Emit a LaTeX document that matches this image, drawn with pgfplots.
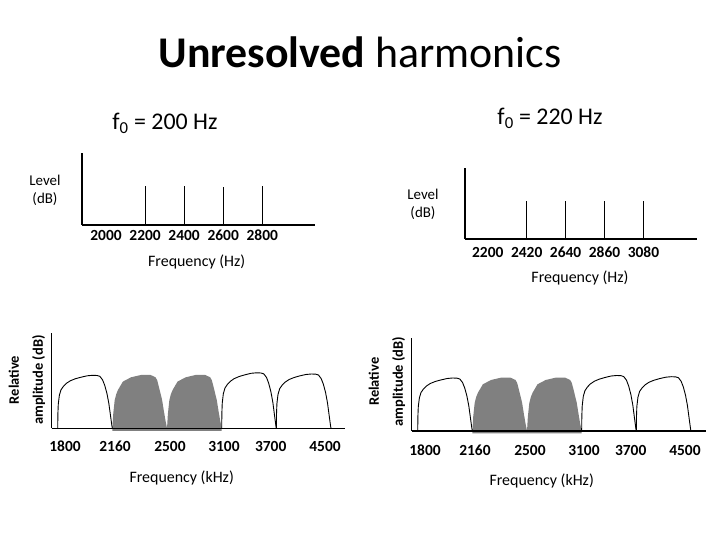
\documentclass[border=0pt]{standalone}
\usepackage{pgfplots}
\pgfplotsset{compat=1.18}
\usepackage{pgfplotstable}
\usepackage{fontspec}
\setmainfont{Carlito}
\definecolor{bandgray}{RGB}{128,128,128}

\pgfplotstableread{
x y
0 0
0.003 14
0.010 24
0.030 33
0.060 38.5
0.105 42
0.160 45
0.230 47.5
0.320 49.5
0.420 51
0.540 52.5
0.640 53
0.720 52.8
0.770 52
0.820 48.5
0.860 43
0.900 35
0.935 25
0.965 13
0.990 3
1.000 0
}\bandA
\pgfplotstableread{
x y
1 -2.5
1 0
1.015 14
1.042 28
1.070 34
1.102 38.3
1.192 46.7
1.341 51
1.521 53.3
1.700 53.3
1.790 51
1.820 48
1.850 41.7
1.880 35
1.910 28.3
1.940 18
1.970 8.3
2 0
2 -2.5
}\bandB
\pgfplotstableread{
x y
2 -2.5
2 0
2.015 14
2.042 28
2.070 34
2.102 38.3
2.192 46.7
2.341 51
2.521 53.3
2.700 53.3
2.790 51
2.820 48
2.850 41.7
2.880 35
2.910 28.3
2.940 18
2.970 8.3
3 0
3 -2.5
}\bandC
\pgfplotstableread{
x y
3 0
3.003 14.7
3.010 25.1
3.030 34.6
3.060 40.3
3.105 44
3.160 47.1
3.230 49.7
3.320 51.8
3.420 53.4
3.540 55
3.640 55.5
3.720 55.3
3.770 54.4
3.820 50.8
3.860 45
3.900 36.6
3.935 26.2
3.965 13.6
3.990 3.1
4 0
}\bandD
\pgfplotstableread{
x y
4 0
4.003 14.4
4.010 24.6
4.030 33.8
4.060 39.5
4.105 43.1
4.160 46.1
4.230 48.7
4.320 50.7
4.420 52.3
4.540 53.8
4.640 54.3
4.720 54.1
4.770 53.3
4.820 49.7
4.860 44.1
4.900 35.9
4.935 25.6
4.965 13.3
4.990 3.1
5 0
}\bandE

\begin{document}
\begin{tikzpicture}[x=1bp,y=1bp]
\path[use as bounding box] (0,0) rectangle (720,540);
\pgfplotsset{
  slide/.style={scale only axis, anchor=south west,
    axis x line*=bottom, axis y line*=left,
    axis line style={-, line width=1.2bp, black},
    ytick=\empty, major tick length=0pt,
    tick label style={font=\fontsize{15.5}{18}\selectfont\bfseries},
    xticklabel style={anchor=base},
    ymin=0},
  bandline/.style={black, line width=0.9bp, mark=none},
  bandfill/.style={fill=bandgray, draw=none, mark=none},
}

% Title
\node[anchor=base, font=\fontsize{44}{50}\selectfont] at (360,472)
  {{\bfseries Unresolved} harmonics};

% Panel titles
\node[anchor=base, font=\fontsize{24}{28}\selectfont] at (165,410.7) {f\textsubscript{0} = 200 Hz};
\node[anchor=base, font=\fontsize{24}{28}\selectfont] at (550,415) {f\textsubscript{0} = 220 Hz};

% Top-left panel
\begin{axis}[slide, at={(82bp,315bp)}, width=233bp, height=72bp,
  xmin=1877, xmax=3070, ymax=72,
  xtick={2000,2200,2400,2600,2800},
  xticklabels={2000,2200,2400,2600,2800},
  xticklabel style={yshift=-16bp}]
\addplot[ycomb, black, line width=1bp, mark=none] coordinates {(2200,39) (2400,39) (2600,38) (2800,39)};
\end{axis}
\node[align=center, font=\fontsize{15}{18}\selectfont] at (45,350) {Level\\(dB)};
\node[font=\fontsize{16}{19}\selectfont] at (196.7,278) {Frequency (Hz)};

% Top-right panel
\begin{axis}[slide, at={(465bp,301bp)}, width=232bp, height=71bp,
  xmin=2071, xmax=3383, ymax=71,
  xtick={2200,2420,2640,2860,3080},
  xticklabels={2200,2420,2640,2860,3080},
  xticklabel style={yshift=-18.5bp}]
\addplot[ycomb, black, line width=1bp, mark=none] coordinates {(2420,38.3) (2640,38.3) (2860,38.3) (3080,38.3)};
\end{axis}
\node[align=center, font=\fontsize{15}{18}\selectfont] at (423,336) {Level\\(dB)};
\node[font=\fontsize{16}{19}\selectfont] at (580,262) {Frequency (Hz)};

% Bottom-left panel
\begin{axis}[slide, at={(51.7bp,111.7bp)}, width=293.3bp, height=95.3bp,
  xmin=-0.11, xmax=5.256, ymax=95.3, clip=false, axis on top,
  xtick={0.134,1.048,2.054,3.042,3.897,4.89},
  xticklabels={1800,2160,2500,3100,3700,4500},
  xticklabel style={yshift=-23bp}]
\addplot[bandfill] table {\bandB};
\addplot[bandfill] table {\bandC};
\addplot[bandline] table {\bandA};
\addplot[bandline] table {\bandD};
\addplot[bandline] table {\bandE};
\end{axis}
\node[rotate=90, align=center, font=\fontsize{14.5}{24}\selectfont\bfseries] at (27,160) {Relative\\amplitude (dB)};
\node[font=\fontsize{16}{19}\selectfont] at (181.7,62) {Frequency (kHz)};

% Bottom-right panel
\begin{axis}[slide, at={(411.7bp,109bp)}, width=294bp, height=93.3bp,
  xmin=-0.11, xmax=5.27, ymax=93.3, clip=false, axis on top,
  xtick={0.134,1.048,2.054,3.042,3.897,4.89},
  xticklabels={1800,2160,2500,3100,3700,4500},
  xticklabel style={yshift=-25bp}]
\addplot[bandfill] table {\bandB};
\addplot[bandfill] table {\bandC};
\addplot[bandline] table {\bandA};
\addplot[bandline] table {\bandD};
\addplot[bandline] table {\bandE};
\end{axis}
\node[rotate=90, align=center, font=\fontsize{14.5}{24}\selectfont\bfseries] at (387,158.3) {Relative\\amplitude (dB)};
\node[font=\fontsize{16}{19}\selectfont] at (541.7,59.3) {Frequency (kHz)};
\end{tikzpicture}
\end{document}
